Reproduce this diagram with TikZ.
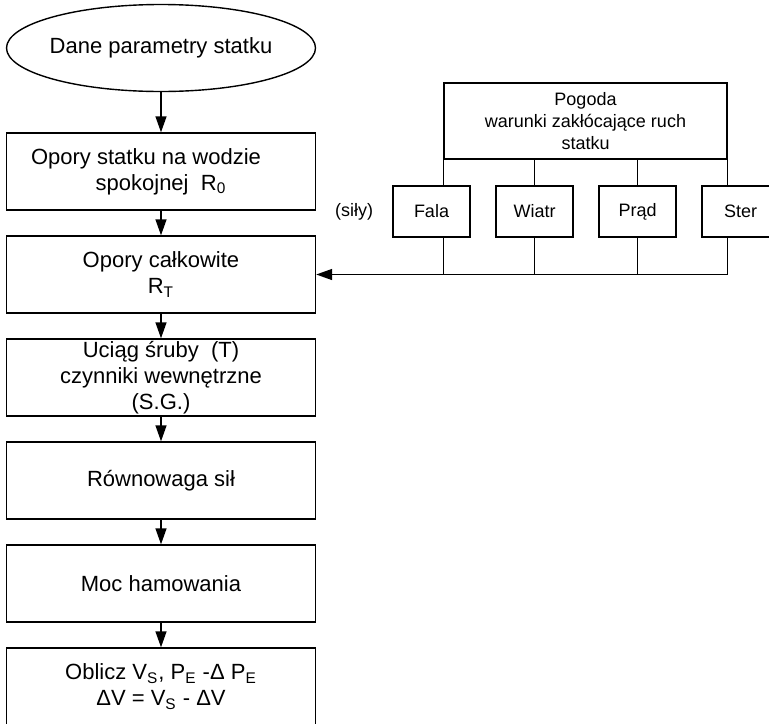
\documentclass[tikz,border=0pt]{standalone}
\usepackage{fontspec}
\setmainfont{Liberation Sans}
\usetikzlibrary{arrows.meta,shapes.geometric,calc}

\begin{document}
\begin{tikzpicture}[x=0.5pt,y=-0.5pt,node distance=51.5pt,line width=0.7pt,>={Triangle[length=8pt,width=5.5pt]}]
			\tikzstyle{blok}=[draw,rectangle,minimum width=154.5pt,minimum height=38.5pt,inner sep=0pt,align=center,font=\fontsize{11pt}{13pt}\selectfont]
			\tikzstyle{maly}=[draw,rectangle,minimum width=38.5pt,minimum height=25.5pt,fill=white,font=\fontsize{9pt}{11pt}\selectfont]
			\useasboundingbox (0,0) rectangle (769,723);
			%Left Column
			\node[draw,ellipse,minimum width=154.5pt,minimum height=43.5pt,inner xsep=-2pt,font=\fontsize{11pt}{13pt}\selectfont](dane) at (161,48){Dane parametry statku};
			\node[blok](spok)[below of = dane,node distance=61.75pt]{Opory statku na wodzie\hspace*{15pt}\\spokojnej\ \ R\textsubscript{0}};
			\node[blok](calk)[below of = spok]{Opory całkowite\\R\textsubscript{T}};
			\node[blok](uciag)[below of = calk]{Uciąg śruby\ \ (T)\\czynniki wewnętrzne\\(S.G.)};
			\node[blok](rown)[below of = uciag]{Równowaga sił};
			\node[blok](moc)[below of = rown]{Moc hamowania};
			\node[blok](oblicz)[below of = moc]{Oblicz V\textsubscript{S}, P\textsubscript{E} -Δ P\textsubscript{E}\\ΔV = V\textsubscript{S} - ΔV};
			%Right Side
			\node[draw,rectangle,minimum width=141.5pt,minimum height=38pt,align=center,font=\fontsize{9pt}{11pt}\selectfont](pogoda) at (585.5,121){Pogoda\\warunki zakłócające ruch\\statku};
			\node[maly](fala) at (431.5,211.5){Fala};
			\node[maly](wiatr)[right of = fala]{Wiatr};
			\node[maly](prad)[right of = wiatr]{Prąd};
			\node[maly](ster)[right of = prad]{Ster};
			\node[font=\fontsize{9pt}{11pt}\selectfont](sily)[left of = fala,node distance=38.75pt]{(siły)};
			%Arrows Down
			\draw[->](dane)--(spok);
			\draw[->](spok)--(calk);
			\draw[->](calk)--(uciag);
			\draw[->](uciag)--(rown);
			\draw[->](rown)--(moc);
			\draw[->](moc)--(oblicz);
			%Weather Lines
			\draw(pogoda.south west)--(pogoda.south west |- fala.north);
			\draw(wiatr.north |- pogoda.south)--(wiatr.north);
			\draw(prad.north |- pogoda.south)--(prad.north);
			\draw(pogoda.south east)--(pogoda.south east |- ster.north);
			\draw(fala.south -| pogoda.south west)--(pogoda.south west |- calk.east);
			\draw(wiatr.south)--(wiatr.south |- calk.east);
			\draw(prad.south)--(prad.south |- calk.east);
			\draw(ster.south -| pogoda.south east)--(pogoda.south east |- calk.east);
			\draw[->](pogoda.south east |- calk.east)--(calk.east);
			\end{tikzpicture}
\end{document}
